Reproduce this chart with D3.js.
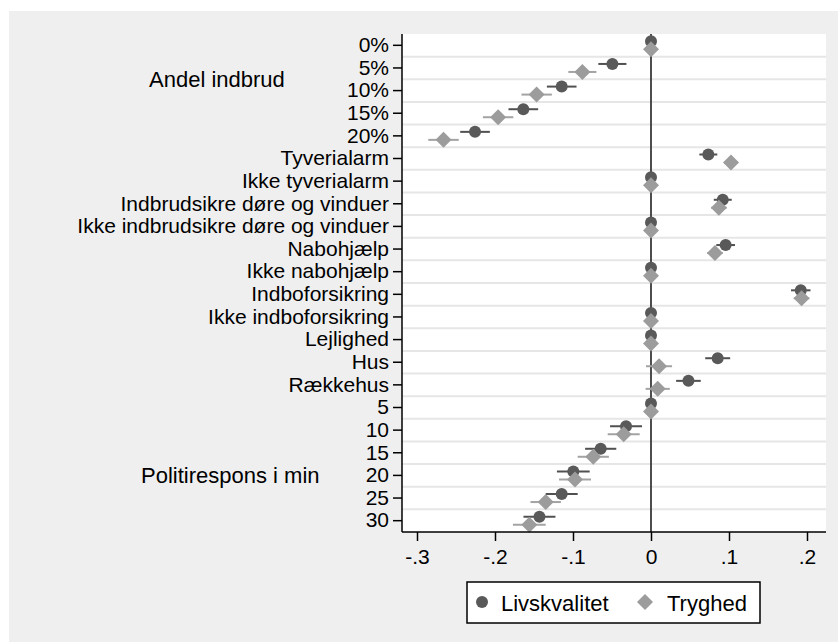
<!DOCTYPE html>
<html>
<head>
<meta charset="utf-8">
<script src="https://cdn.jsdelivr.net/npm/d3@7"></script>
<style>
  html, body { margin: 0; padding: 0; background: #fff; }
  svg { display: block; font-family: "Liberation Sans", Arial, sans-serif; }
</style>
</head>
<body>
<svg id="chart"></svg>
<script>
const WIDTH = 838;
const HEIGHT = 642;

// rows, top to bottom
const categories = [
  '0%', '5%', '10%', '15%', '20%',
  'Tyverialarm', 'Ikke tyverialarm',
  'Indbrudsikre døre og vinduer', 'Ikke indbrudsikre døre og vinduer',
  'Nabohjælp', 'Ikke nabohjælp',
  'Indboforsikring', 'Ikke indboforsikring',
  'Lejlighed', 'Hus', 'Rækkehus',
  '5', '10', '15', '20', '25', '30',
];

// point estimates
const livskvalitet = [
  0, -0.0495, -0.1145, -0.1637, -0.2256,
  0.0735, 0, 0.092, 0, 0.0957, 0, 0.192, 0,
  0, 0.0855, 0.048,
  0, -0.032, -0.0645, -0.0996, -0.1145, -0.143,
];
const tryghed = [
  0, -0.088, -0.1466, -0.196, -0.266,
  0.1026, 0, 0.087, 0, 0.082, 0, 0.193, 0,
  0, 0.0103, 0.0086,
  0, -0.035, -0.074, -0.0974, -0.135, -0.156,
];

// half width of the confidence intervals
const livskvalitetCI = [
  0, 0.018, 0.019, 0.019, 0.019,
  0.0115, 0, 0.0115, 0, 0.012, 0, 0.0125, 0,
  0, 0.016, 0.0158,
  0, 0.0205, 0.02, 0.021, 0.0205, 0.0205,
];
const tryghedCI = [
  0, 0.018, 0.0195, 0.0195, 0.0195,
  0.009, 0, 0.01, 0, 0.01, 0, 0.01, 0,
  0, 0.0167, 0.0155,
  0, 0.0205, 0.02, 0.0205, 0.0195, 0.021,
];

const xTicks = [-0.3, -0.2, -0.1, 0, 0.1, 0.2];
const xTickLabels = ['-.3', '-.2', '-.1', '0', '.1', '.2'];

// group label, placed between two rows
const groups = [
  { label: 'Andel indbrud', rows: [1, 2] },
  { label: 'Politirespons i min', rows: [19, 19] },
];

const seriesNames = ['Livskvalitet', 'Tryghed'];

const plot = { left: 402, right: 826, top: 34, bottom: 532 };

const svg = d3.select('#chart')
  .attr('width', WIDTH)
  .attr('height', HEIGHT);

// outer gray area
svg.append('rect')
  .attr('x', 9).attr('y', 11)
  .attr('width', WIDTH - 9).attr('height', HEIGHT - 11)
  .attr('fill', '#efefef');

svg.append('rect')
  .attr('x', plot.left).attr('y', plot.top)
  .attr('width', plot.right - plot.left).attr('height', plot.bottom - plot.top)
  .attr('fill', '#fff');

const x = d3.scaleLinear()
  .domain([(plot.left - 651) / 780, (plot.right - 651) / 780])
  .range([plot.left, plot.right]);

const y = d3.scaleBand()
  .domain(d3.range(categories.length))
  .range([plot.top, plot.bottom])
  .padding(0);

const rowY = i => y(i) + y.bandwidth() / 2;

// grid lines between rows
svg.append('g')
  .selectAll('line')
  .data(d3.range(1, categories.length))
  .enter()
  .append('line')
  .attr('x1', plot.left)
  .attr('x2', plot.right)
  .attr('y1', i => y(i))
  .attr('y2', i => y(i))
  .attr('stroke', '#e6e6e6')
  .attr('stroke-width', 2);

// zero line
svg.append('line')
  .attr('x1', x(0)).attr('x2', x(0))
  .attr('y1', plot.top).attr('y2', plot.bottom)
  .attr('stroke', '#3a3a3a')
  .attr('stroke-width', 1.8);

const series = [
  { values: livskvalitet, ci: livskvalitetCI, dy: -4, shape: 'circle', fill: '#595959', ciColor: '#505050' },
  { values: tryghed, ci: tryghedCI, dy: 4, shape: 'diamond', fill: '#9c9c9c', ciColor: '#a3a3a3' },
];

const circleSym = d3.symbol().type(d3.symbolCircle).size(Math.PI * 36);
const diamondPath = 'M0,-8L8,0L0,8L-8,0Z';

series.forEach((s) => {
  const g = svg.append('g');
  const rows = d3.range(categories.length);

  g.selectAll('line')
    .data(rows.filter(i => s.ci[i] > 0))
    .enter()
    .append('line')
    .attr('x1', i => x(s.values[i] - s.ci[i]))
    .attr('x2', i => x(s.values[i] + s.ci[i]))
    .attr('y1', i => rowY(i) + s.dy)
    .attr('y2', i => rowY(i) + s.dy)
    .attr('stroke', s.ciColor)
    .attr('stroke-width', 2);

  g.selectAll('path')
    .data(rows)
    .enter()
    .append('path')
    .attr('d', s.shape === 'circle' ? circleSym() : diamondPath)
    .attr('transform', i => `translate(${x(s.values[i])},${rowY(i) + s.dy})`)
    .attr('fill', s.fill);
});

// y axis
const yAxis = svg.append('g')
  .attr('transform', `translate(${plot.left},0)`)
  .call(d3.axisLeft(y).tickSize(9).tickPadding(4).tickFormat(i => categories[i]));
yAxis.select('.domain')
  .attr('d', `M0,${plot.top}V${plot.bottom}`)
  .attr('stroke', '#000')
  .attr('stroke-width', 1.5);
yAxis.selectAll('.tick line').attr('stroke', '#000').attr('stroke-width', 1.5);
yAxis.selectAll('.tick text')
  .attr('font-size', 21)
  .attr('fill', '#000')
  .attr('font-family', '"Liberation Sans", Arial, sans-serif');

// x axis
const xAxis = svg.append('g')
  .attr('transform', `translate(0,${plot.bottom})`)
  .call(d3.axisBottom(x).tickValues(xTicks).tickSize(9).tickPadding(8)
    .tickFormat((d, i) => xTickLabels[i]));
xAxis.select('.domain')
  .attr('d', `M${plot.left},0H${plot.right}`)
  .attr('stroke', '#000')
  .attr('stroke-width', 1.5);
xAxis.selectAll('.tick line').attr('stroke', '#000').attr('stroke-width', 1.5);
xAxis.selectAll('.tick text')
  .attr('font-size', 21)
  .attr('fill', '#000')
  .attr('font-family', '"Liberation Sans", Arial, sans-serif');

// group labels
svg.append('g')
  .selectAll('text')
  .data(groups)
  .enter()
  .append('text')
  .attr('x', (d, i) => (i === 0 ? 149 : 141))
  .attr('y', d => (rowY(d.rows[0]) + rowY(d.rows[1])) / 2)
  .attr('dominant-baseline', 'central')
  .attr('font-size', 22)
  .attr('fill', '#000')
  .text(d => d.label);

// legend
const legend = svg.append('g');
legend.append('rect')
  .attr('x', 467).attr('y', 582)
  .attr('width', 293).attr('height', 41)
  .attr('fill', '#fff')
  .attr('stroke', '#000')
  .attr('stroke-width', 1.5);

const legendItems = [
  { name: seriesNames[0], sx: 482, tx: 501 },
  { name: seriesNames[1], sx: 645, tx: 667 },
];
legendItems.forEach((item, i) => {
  legend.append('path')
    .attr('d', i === 0 ? circleSym() : diamondPath)
    .attr('transform', `translate(${item.sx},602)`)
    .attr('fill', series[i].fill);
  legend.append('text')
    .attr('x', item.tx)
    .attr('y', 603)
    .attr('dominant-baseline', 'central')
    .attr('font-size', 22)
    .attr('fill', '#000')
    .text(item.name);
});
</script>
</body>
</html>
